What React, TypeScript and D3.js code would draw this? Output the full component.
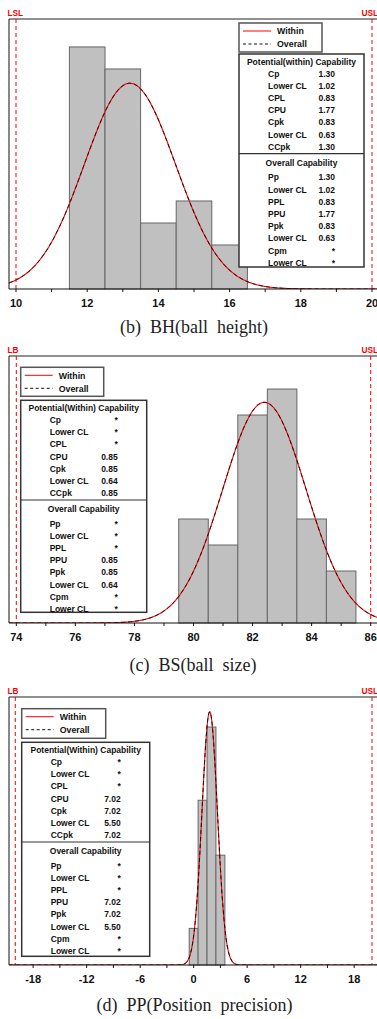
import React, { useRef, useEffect } from "react";
import * as d3 from "d3";

// labels shared by the three capability tables
const potentialLabels = ["Cp", "Lower CL", "CPL", "CPU", "Cpk", "Lower CL", "CCpk"];
const overallLabels = ["Pp", "Lower CL", "PPL", "PPU", "Ppk", "Lower CL", "Cpm", "Lower CL"];

// (b) BH ball height
const bhBinStart = 11.5;
const bhCounts = [11, 10, 3, 4, 2];
const bhMean = 13.2;
const bhSd = 1.28;
const bhSpec = [10, 20];
const bhTicks = [10, 12, 14, 16, 18, 20];
const bhMinorTicks = [11, 13, 15, 17, 19];
const bhPotential = ["1.30", "1.02", "0.83", "1.77", "0.83", "0.63", "1.30"];
const bhOverall = ["1.30", "1.02", "0.83", "1.77", "0.83", "0.63", "*", "*"];

// (c) BS ball size
const bsBinStart = 79.5;
const bsCounts = [4, 3, 8, 9, 4, 2];
const bsMean = 82.4;
const bsSd = 1.41;
const bsSpec = [74, 86];
const bsTicks = [74, 76, 78, 80, 82, 84, 86];
const bsMinorTicks = [75, 77, 79, 81, 83, 85];
const bsPotential = ["*", "*", "*", "0.85", "0.85", "0.64", "0.85"];
const bsOverall = ["*", "*", "*", "0.85", "0.85", "0.64", "*", "*"];

// (d) PP position precision
const ppBinStart = -0.5;
const ppCounts = [2, 9, 13, 6];
const ppMean = 1.8;
const ppSd = 0.865;
const ppSpec = [-20, 20];
const ppTicks = [-18, -12, -6, 0, 6, 12, 18];
const ppMinorTicks = [-15, -9, -3, 3, 9, 15];
const ppPotential = ["*", "*", "*", "7.02", "7.02", "5.50", "7.02"];
const ppOverall = ["*", "*", "*", "7.02", "7.02", "5.50", "*", "*"];

const SANS = "'Liberation Sans', Arial, sans-serif";
const SERIF = "'Liberation Serif', 'Times New Roman', serif";

const panels = [
  {
    id: "bh", top: 19, bottom: 289, yMax: 12.27,
    spec: bhSpec, xRange: [16, 372], binStart: bhBinStart, counts: bhCounts,
    mean: bhMean, sd: bhSd, ticks: bhTicks, minor: bhMinorTicks,
    lowLabel: "LSL", highLabel: "USL",
    legend: { x: 239, y: 23, w: 83, h: 29 }, stats: { x: 239, y: 54, w: 125, h: 213 },
    potTitle: "Potential(within) Capability", potential: bhPotential, overall: bhOverall,
    caption: "(b)  BH(ball  height)", captionY: 333, captionX: 194,
  },
  {
    id: "bs", top: 356, bottom: 623, yMax: 10.27,
    spec: bsSpec, xRange: [16.3, 370.7], binStart: bsBinStart, counts: bsCounts,
    mean: bsMean, sd: bsSd, ticks: bsTicks, minor: bsMinorTicks,
    lowLabel: "LB", highLabel: "USL",
    legend: { x: 20.7, y: 367.3, w: 83, h: 29 }, stats: { x: 20.7, y: 400.3, w: 126, h: 212 },
    potTitle: "Potential(Within) Capability", potential: bsPotential, overall: bsOverall,
    caption: "(c)  BS(ball  size)", captionY: 671, captionX: 193,
  },
  {
    id: "pp", top: 697, bottom: 965, yMax: 14.64,
    spec: ppSpec, xRange: [15.3, 372], binStart: ppBinStart, counts: ppCounts,
    mean: ppMean, sd: ppSd, ticks: ppTicks, minor: ppMinorTicks,
    lowLabel: "LB", highLabel: "USL",
    legend: { x: 21.7, y: 708.7, w: 84, h: 29.6 }, stats: { x: 21.7, y: 742.3, w: 128, h: 214 },
    potTitle: "Potential(Within) Capability", potential: ppPotential, overall: ppOverall,
    caption: "(d)  PP(Position  precision)", captionY: 1011, captionX: 194.5,
  },
];

const App = () => {
  const svgRef = useRef(null);

  useEffect(() => {
    const svg = d3.select(svgRef.current);
    svg.selectAll("*").remove();
    const left = 9;
    const right = 400;

    panels.forEach((p) => {
      const g = svg.append("g");
      const x = d3.scaleLinear().domain(p.spec).range(p.xRange);
      const y = d3.scaleLinear().domain([0, p.yMax]).range([p.bottom, p.top]);

      g.append("clipPath")
        .attr("id", "clip-" + p.id)
        .append("rect")
        .attr("x", left)
        .attr("y", p.top)
        .attr("width", right - left)
        .attr("height", p.bottom - p.top);

      // histogram bars
      g.selectAll(".bar")
        .data(p.counts)
        .enter()
        .append("rect")
        .attr("x", (d, i) => x(p.binStart + i))
        .attr("y", (d) => y(d))
        .attr("width", (d, i) => x(p.binStart + i + 1) - x(p.binStart + i))
        .attr("height", (d) => y(0) - y(d))
        .attr("fill", "#c0c0c0")
        .attr("stroke", "#666")
        .attr("stroke-width", 1);

      // fitted normal curves
      const n = d3.sum(p.counts);
      const x0 = x.invert(left);
      const x1 = x.invert(380);
      const pts = d3.range(0, 601).map((k) => x0 + ((x1 - x0) * k) / 600);
      const pdf = (v) =>
        (n / (p.sd * Math.sqrt(2 * Math.PI))) * Math.exp(-0.5 * ((v - p.mean) / p.sd) ** 2);
      const line = d3.line().x((v) => x(v)).y((v) => y(pdf(v)));
      g.append("path")
        .datum(pts)
        .attr("d", line)
        .attr("fill", "none")
        .attr("stroke", "#ff0000")
        .attr("stroke-width", 1.1)
        .attr("clip-path", `url(#clip-${p.id})`);
      g.append("path")
        .datum(pts)
        .attr("d", line)
        .attr("fill", "none")
        .attr("stroke", "#111")
        .attr("stroke-width", 1)
        .attr("stroke-dasharray", "4,3")
        .attr("clip-path", `url(#clip-${p.id})`);

      // frame
      g.append("line").attr("x1", left).attr("x2", right).attr("y1", p.top).attr("y2", p.top)
        .attr("stroke", "#222").attr("stroke-width", 1);
      g.append("line").attr("x1", left).attr("x2", left).attr("y1", p.top).attr("y2", p.bottom)
        .attr("stroke", "#111").attr("stroke-width", 1);

      // spec limits
      p.spec.forEach((s) => {
        g.append("line")
          .attr("x1", x(s)).attr("x2", x(s))
          .attr("y1", p.top).attr("y2", p.bottom)
          .attr("stroke", "#ff0000")
          .attr("stroke-width", 1)
          .attr("stroke-dasharray", "4,3");
      });
      g.append("text").attr("x", 7.5).attr("y", p.top - 3).text(p.lowLabel)
        .attr("fill", "#ff0000").attr("font-family", SANS).attr("font-weight", "bold").attr("font-size", 8.3);
      g.append("text").attr("x", 361.5).attr("y", p.top - 3).text(p.highLabel)
        .attr("fill", "#ff0000").attr("font-family", SANS).attr("font-weight", "bold").attr("font-size", 8.3);

      // x axis
      const axis = g.append("g").attr("transform", `translate(0,${p.bottom})`);
      axis.append("line").attr("x1", left).attr("x2", right).attr("stroke", "#111").attr("stroke-width", 1.2);
      axis.selectAll(".tk")
        .data(p.ticks.concat(p.minor))
        .enter()
        .append("line")
        .attr("x1", (d) => x(d)).attr("x2", (d) => x(d))
        .attr("y1", 0).attr("y2", 3)
        .attr("stroke", "#111");
      axis.selectAll(".tl")
        .data(p.ticks)
        .enter()
        .append("text")
        .attr("x", (d) => x(d))
        .attr("y", 17.5)
        .attr("text-anchor", "middle")
        .attr("font-family", SANS)
        .attr("font-weight", "bold")
        .attr("font-size", 11)
        .attr("fill", "#111")
        .text((d) => String(d));

      // legend
      const lg = p.legend;
      g.append("rect").attr("x", lg.x).attr("y", lg.y).attr("width", lg.w).attr("height", lg.h)
        .attr("fill", "#fff").attr("stroke", "#555").attr("stroke-width", 1.5);
      g.append("line").attr("x1", lg.x + 4).attr("x2", lg.x + 32).attr("y1", lg.y + 8).attr("y2", lg.y + 8)
        .attr("stroke", "#ff0000").attr("stroke-width", 1);
      g.append("line").attr("x1", lg.x + 4).attr("x2", lg.x + 32).attr("y1", lg.y + 21).attr("y2", lg.y + 21)
        .attr("stroke", "#111").attr("stroke-width", 1).attr("stroke-dasharray", "3,2.5");
      [["Within", 8], ["Overall", 21]].forEach(([t, dy]) => {
        g.append("text").attr("x", lg.x + 38).attr("y", lg.y + dy + 3.2).text(t)
          .attr("font-family", SANS).attr("font-weight", "bold").attr("font-size", 8.8).attr("fill", "#111");
      });

      // capability table
      const st = p.stats;
      g.append("rect").attr("x", st.x).attr("y", st.y).attr("width", st.w).attr("height", st.h)
        .attr("fill", "#fff").attr("stroke", "#333").attr("stroke-width", 1.5);
      g.append("line").attr("x1", st.x).attr("x2", st.x + st.w).attr("y1", st.y + 99.7).attr("y2", st.y + 99.7)
        .attr("stroke", "#333").attr("stroke-width", 1.2);
      const txt = (tx, ty, t, anchor) =>
        g.append("text").attr("x", tx).attr("y", ty + 3).text(t).attr("text-anchor", anchor)
          .attr("font-family", SANS).attr("font-weight", "bold").attr("font-size", 8.5).attr("fill", "#111");
      txt(st.x + st.w / 2, st.y + 8, p.potTitle, "middle");
      potentialLabels.forEach((lab, i) => {
        txt(st.x + 29, st.y + 19.8 + i * 12.15, lab, "start");
        txt(st.x + st.w - 29, st.y + 19.8 + i * 12.15, p.potential[i], "end");
      });
      txt(st.x + st.w / 2, st.y + 108.6, "Overall Capability", "middle");
      overallLabels.forEach((lab, i) => {
        txt(st.x + 29, st.y + 123.3 + i * 12.2, lab, "start");
        txt(st.x + st.w - 29, st.y + 123.3 + i * 12.2, p.overall[i], "end");
      });

      // caption
      g.append("text")
        .attr("x", p.captionX)
        .attr("y", p.captionY)
        .attr("text-anchor", "middle")
        .attr("font-family", SERIF)
        .attr("font-size", 18)
        .attr("fill", "#222")
        .style("white-space", "pre")
        .text(p.caption);
    });
  }, []);

  return (
    <svg
      ref={svgRef}
      width={377}
      height={1019}
      style={{ position: "absolute", left: 0, top: 0, background: "#fff" }}
    ></svg>
  );
};

export default App;
